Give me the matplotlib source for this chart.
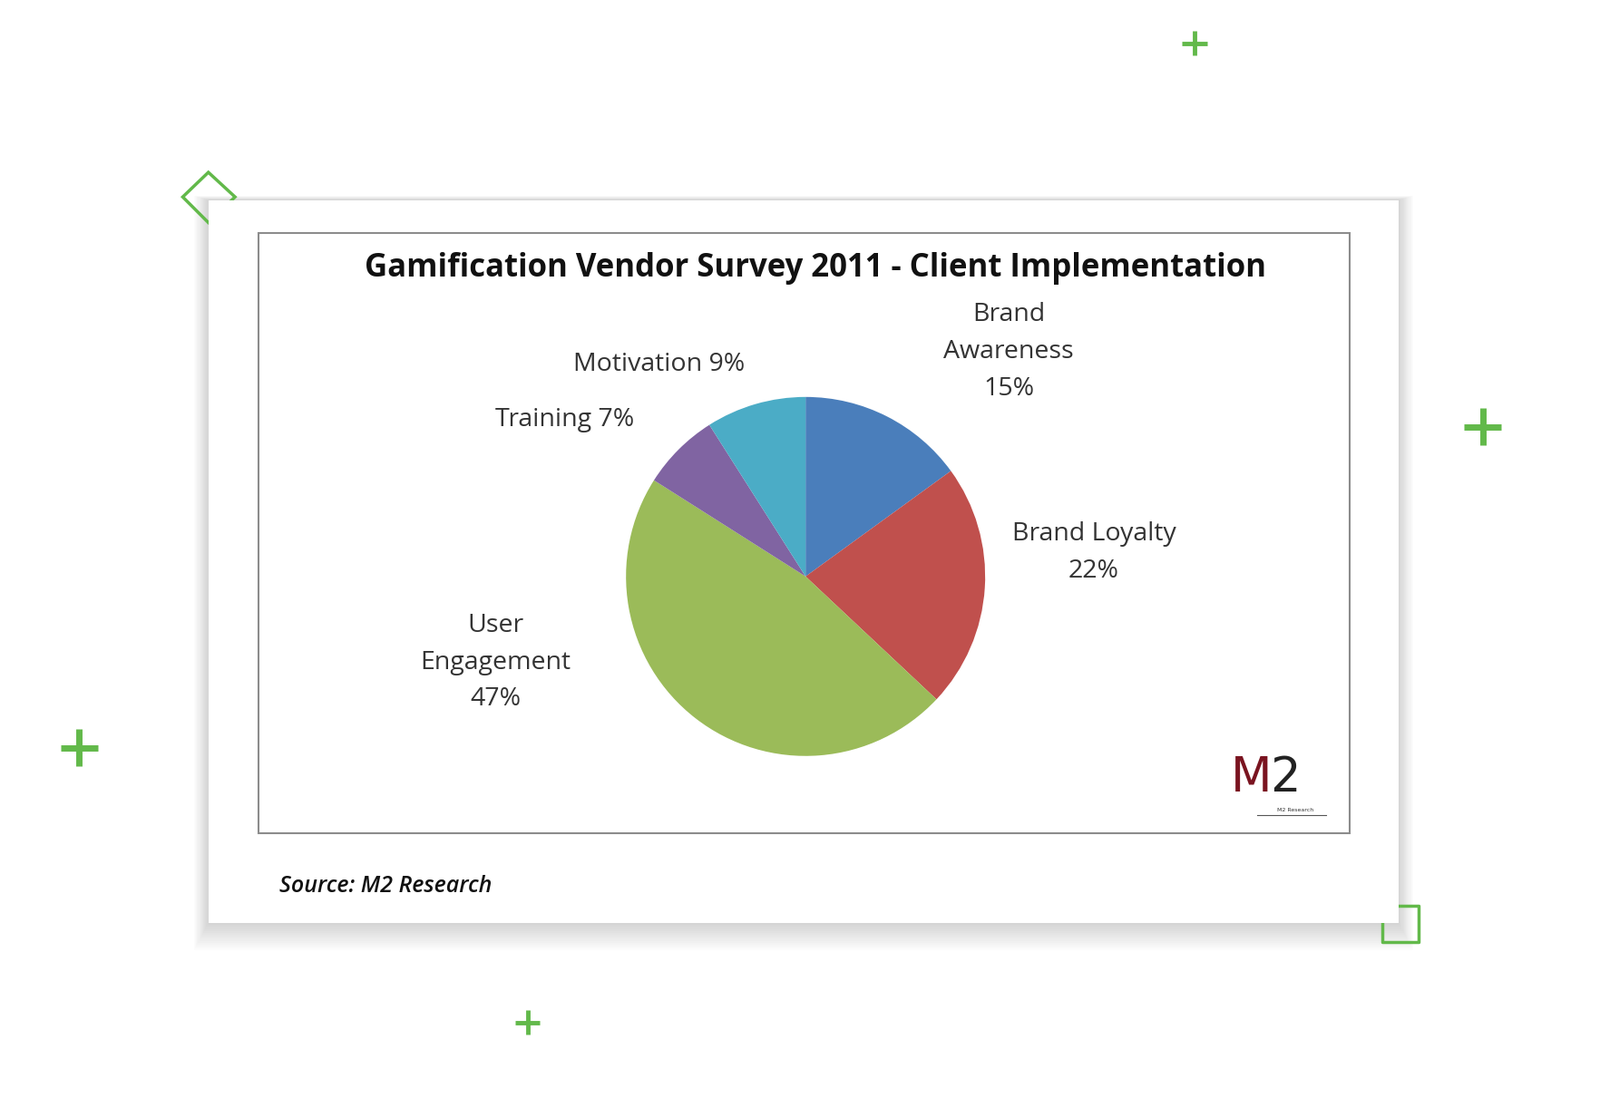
import matplotlib
matplotlib.use('Agg')
import matplotlib.pyplot as plt
from matplotlib.patches import Rectangle, Polygon

# data
categories = ['Brand Awareness', 'Brand Loyalty', 'User Engagement', 'Training', 'Motivation']
shares = [15, 22, 47, 7, 9]
colors = ['#4a7ebb', '#c0504d', '#9bbb59', '#8064a2', '#4bacc6']
title = 'Gamification Vendor Survey 2011 - Client Implementation'
source = 'Source: M2 Research'

W, H = 1560, 1089
GREEN = '#62b94a'
FONT = 'Open Sans'

fig = plt.figure(figsize=(17.65, 12.32), dpi=100)
ax = fig.add_axes([0, 0, 1, 1])

# card shadow + card
for i in range(14):
    g = 14 - i
    ax.add_patch(Rectangle((203 - g, 195 - g * 0.3), 1160 + 2 * g, 705 + 2.2 * g,
                           color='black', alpha=0.012, lw=0, zorder=1))
ax.add_patch(Rectangle((203, 195), 1160, 705, facecolor='white', lw=0, zorder=2))
ax.add_patch(Rectangle((252, 227), 1063, 585, facecolor='white', edgecolor='#8c8c8c', lw=1.5, zorder=3))

ax.text(795, 262, title, ha='center', va='center', fontsize=25, fontweight='bold',
        family=FONT, color='#111111', zorder=5)

# pie (y axis inverted: counterclock in data = clockwise on screen)
ax.pie(shares, colors=colors, startangle=-90, counterclock=True, center=(785, 562),
       radius=175, frame=True, wedgeprops=dict(lw=0, zorder=4))
ax.set_xlim(0, W)
ax.set_ylim(H, 0)
ax.axis('off')

lab = dict(ha='center', va='center', fontsize=20.5, family=FONT, color='#333333',
           linespacing=1.6, zorder=5)
ax.text(983, 343, 'Brand\nAwareness\n15%', **lab)
ax.text(1066, 539, 'Brand Loyalty\n22%', **lab)
ax.text(483, 646, 'User\nEngagement\n47%', **lab)
ax.text(550, 409, 'Training 7%', **lab)
ax.text(642, 355, 'Motivation 9%', **lab)

# logo
ax.text(1219, 758, 'M', ha='center', va='center', fontsize=38, color='#7a1420',
        family='DejaVu Sans', zorder=5)
ax.text(1252, 758, '2', ha='center', va='center', fontsize=38, color='#222222',
        family='DejaVu Sans', zorder=5)
ax.plot([1225, 1292], [795, 795], color='#555555', lw=0.8, zorder=5)
ax.text(1262, 790, 'M2 Research', ha='center', va='center', fontsize=4.5, color='#333333', zorder=5)

ax.text(272, 864, source, ha='left', va='center', fontsize=18, fontstyle='italic',
        fontweight='semibold', family=FONT, color='#111111', zorder=5)

# decorations
def plus(x, y, s, lw):
    ax.plot([x - s, x + s], [y, y], color=GREEN, lw=lw, solid_capstyle='butt', zorder=6)
    ax.plot([x, x], [y - s, y + s], color=GREEN, lw=lw, solid_capstyle='butt', zorder=6)

plus(1164, 42, 12, 3.5)
plus(1445, 416, 18, 5)
plus(77, 729, 18, 5)
plus(514, 997, 12, 3.5)

ax.add_patch(Polygon([(203, 168), (229, 192), (203, 217), (178, 192)], closed=True,
                     fill=False, edgecolor=GREEN, lw=2.5, zorder=1.5))
ax.plot([1347, 1347, 1382, 1382, 1363], [900, 918, 918, 883, 883], color=GREEN, lw=2.5, zorder=1.5)

fig.savefig('out.png', dpi=100)
